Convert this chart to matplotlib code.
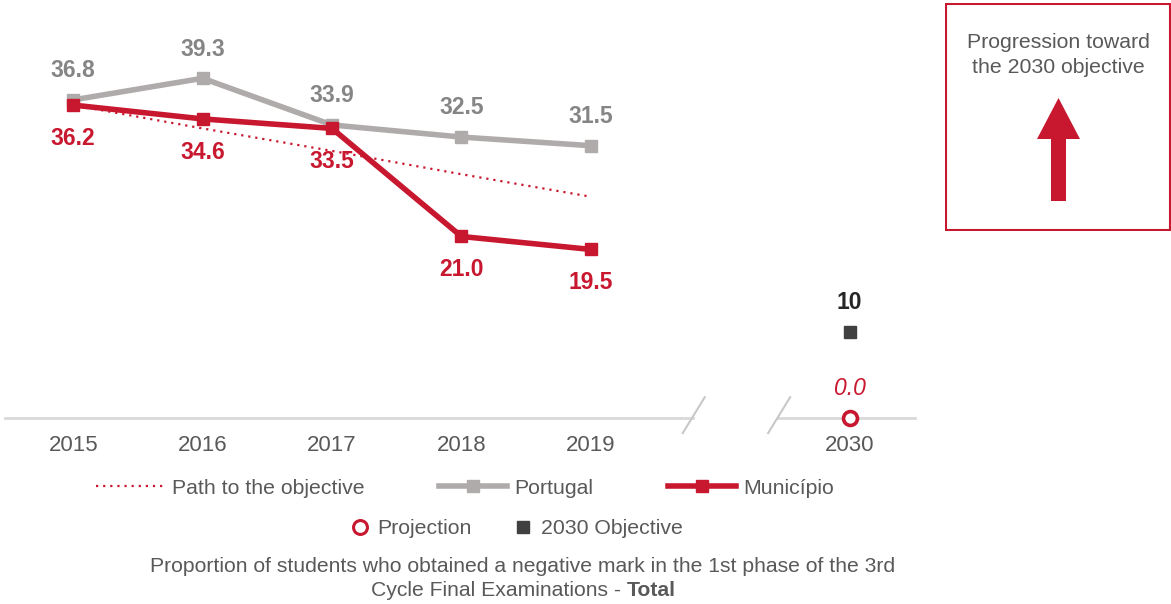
import matplotlib
matplotlib.use("Agg")
import matplotlib.pyplot as plt
from matplotlib.lines import Line2D
from matplotlib.patches import Rectangle, Polygon

plt.rcParams['font.family'] = ['Liberation Sans', 'DejaVu Sans']

# data
years = ['2015', '2016', '2017', '2018', '2019']
portugal = [36.8, 39.3, 33.9, 32.5, 31.5]
municipio = [36.2, 34.6, 33.5, 21.0, 19.5]
path_objective = [36.2, 33.5, 30.9, 28.2, 25.6]
target_year = '2030'
objective_2030 = 10
projection_2030 = 0.0

RED = '#C8182F'
GREY_LINE = '#AFABAB'
GREY_LABEL = '#858585'
TEXT = '#595959'

W, H = 1171, 604
fig = plt.figure(figsize=(W / 100, H / 100), dpi=100)
ax = fig.add_axes([5 / W, 1 - 418 / H, 910 / W, 408 / H])

x = list(range(len(years)))
x_target = len(years) + 1

ax.plot(x, path_objective, color=RED, lw=1.6, ls=(0, (1, 2.2)), zorder=2)
ax.plot(x, portugal, color=GREY_LINE, lw=4, marker='s', ms=9, zorder=3)
ax.plot(x, municipio, color=RED, lw=4, marker='s', ms=9, zorder=4)

for xi, v in zip(x, portugal):
    ax.annotate(f'{v:.1f}', (xi, v), xytext=(0, 21), textcoords='offset points',
                ha='center', va='center', fontsize=16.5, fontweight='bold', color=GREY_LABEL)
for xi, v in zip(x, municipio):
    ax.annotate(f'{v:.1f}', (xi, v), xytext=(0, -24), textcoords='offset points',
                ha='center', va='center', fontsize=16.5, fontweight='bold', color=RED, zorder=5)

ax.plot([x_target], [objective_2030], ls='none', marker='s', ms=9, color='#404040', zorder=4)
ax.annotate(f'{objective_2030}', (x_target, objective_2030), xytext=(0, 21),
            textcoords='offset points', ha='center', va='center',
            fontsize=16.5, fontweight='bold', color='#262626')
ax.plot([x_target], [projection_2030], ls='none', marker='o', ms=10, mew=2.6,
        mfc='white', mec=RED, zorder=5, clip_on=False)
ax.annotate(f'{projection_2030:.1f}', (x_target, projection_2030), xytext=(0, 21),
            textcoords='offset points', ha='center', va='center',
            fontsize=16.5, fontstyle='italic', color=RED)

# broken baseline
ax.set_xlim(-0.527, 6.505)
ax.set_ylim(0, 47.2)
ax.plot([-0.527, 4.79], [0, 0], color='#D9D9D9', lw=2, zorder=1, clip_on=False)
ax.plot([5.45, 6.505], [0, 0], color='#D9D9D9', lw=2, zorder=1, clip_on=False)
ax.plot([4.71, 4.88], [-1.75, 2.4], color='#C8C8C8', lw=1.5, clip_on=False)
ax.plot([5.37, 5.54], [-1.75, 2.4], color='#C8C8C8', lw=1.5, clip_on=False)

ax.set_xticks(x + [x_target])
ax.set_xticklabels(years + [target_year], fontsize=16, color=TEXT)
ax.tick_params(axis='x', length=0, pad=12)
ax.set_yticks([])
for s in ax.spines.values():
    s.set_visible(False)

# legends
h1 = [Line2D([], [], color=RED, lw=1.6, ls=(0, (1, 2.2))),
      Line2D([], [], color=GREY_LINE, lw=4, marker='s', ms=8),
      Line2D([], [], color=RED, lw=4, marker='s', ms=8)]
fig.legend(h1, ['Path to the objective', 'Portugal', 'Município'], ncol=3,
           loc='center', bbox_to_anchor=(465 / W, 1 - 488 / H),
           frameon=False, fontsize=15.3, handlelength=3.2, handletextpad=0.35,
           columnspacing=3.5, labelcolor=TEXT)
h2 = [Line2D([], [], ls='none', marker='o', ms=10, mew=2.2, mfc='white', mec=RED),
      Line2D([], [], ls='none', marker='s', ms=9, color='#404040')]
fig.legend(h2, ['Projection', '2030 Objective'], ncol=2,
           loc='center', bbox_to_anchor=(516 / W, 1 - 529 / H),
           frameon=False, fontsize=15.3, handlelength=1.0, handletextpad=0.35,
           columnspacing=1.9, labelcolor=TEXT)

# caption
fig.text(523 / W, 1 - 566 / H,
         'Proportion of students who obtained a negative mark in the 1st phase of the 3rd',
         ha='center', va='center', fontsize=15.2, color=TEXT)
t1 = fig.text(0, 1 - 590 / H, 'Cycle Final Examinations - ', ha='left', va='center',
              fontsize=15.2, color=TEXT)
t2 = fig.text(0, 1 - 590 / H, 'Total', ha='left', va='center',
              fontsize=15.2, color=TEXT, fontweight='bold')
r = fig.canvas.get_renderer()
w1 = t1.get_window_extent(r).width
w2 = t2.get_window_extent(r).width
x0 = 523 - (w1 + w2) / 2
t1.set_x(x0 / W)
t2.set_x((x0 + w1) / W)

# progression box
bx = fig.add_axes([945 / W, 1 - 231 / H, 226 / W, 228 / H])
bx.set_xlim(0, 226)
bx.set_ylim(228, 0)
bx.axis('off')
bx.add_patch(Rectangle((1, 1), 224, 226, fill=False, ec=RED, lw=1.5))
bx.text(113, 52, 'Progression toward\nthe 2030 objective', ha='center', va='center',
        fontsize=15.3, color=TEXT, linespacing=1.4)
bx.add_patch(Polygon([(106, 198), (106, 136), (92, 136), (113.5, 95),
                      (135, 136), (121, 136), (121, 198)], closed=True, color=RED, lw=0))

fig.savefig('out.png', dpi=100)
